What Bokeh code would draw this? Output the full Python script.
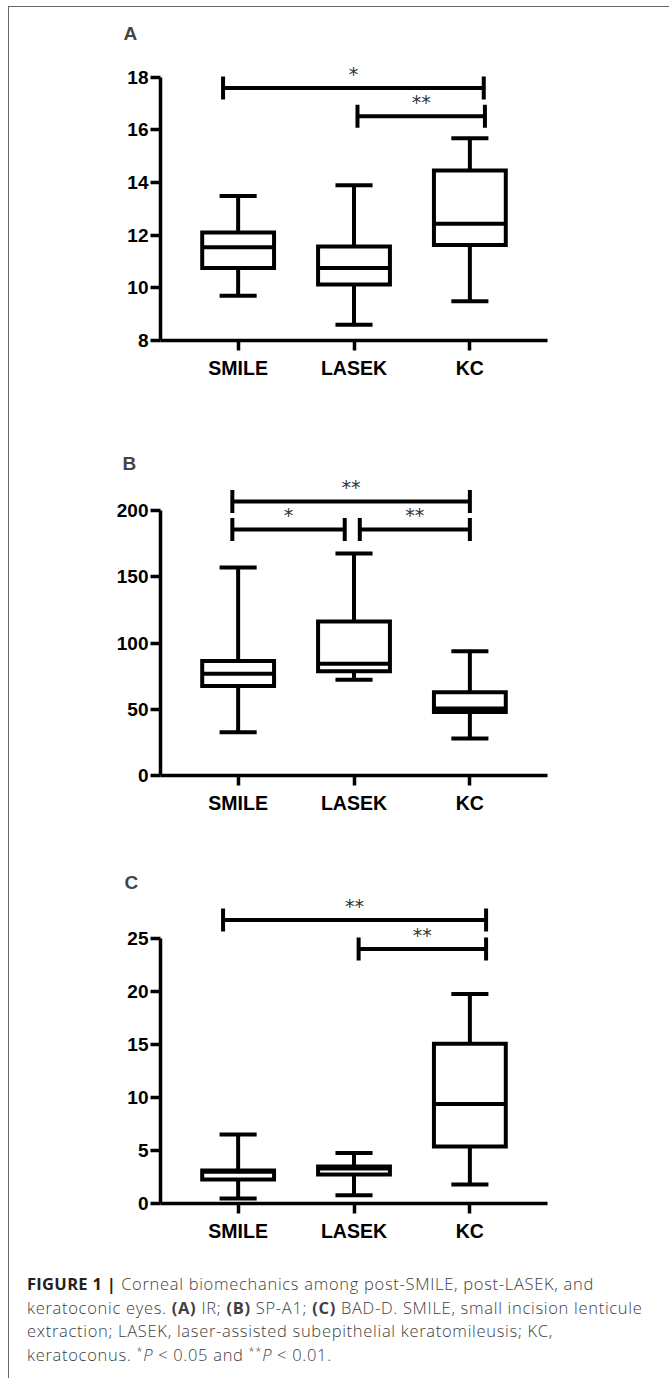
from bokeh.plotting import figure
from bokeh.models import Range1d, FixedTicker, Div, ColumnDataSource
from bokeh.layouts import column
from bokeh.embed import file_html
from bokeh.resources import INLINE
from bokeh.core.properties import value

categories = ["SMILE", "LASEK", "KC"]

# Panel A: IR
a_lower = [9.70, 8.60, 9.49]
a_q1 = [10.75, 10.13, 11.63]
a_median = [11.54, 10.75, 12.43]
a_q3 = [12.10, 11.57, 14.46]
a_upper = [13.49, 13.90, 15.68]
a_ticks = [8, 10, 12, 14, 16, 18]
a_brk_from = [0.87, 2.03]
a_brk_to = [3.12, 3.13]
a_brk_level = [17.59, 16.52]
a_brk_label = ["*", "**"]

# Panel B: SP-A1
b_lower = [32.7, 72.2, 27.9]
b_q1 = [67.5, 78.7, 47.9]
b_median = [76.8, 84.3, 50.6]
b_q3 = [86.5, 116.2, 62.8]
b_upper = [157.0, 167.5, 93.8]
b_ticks = [0, 50, 100, 150, 200]
b_brk_from = [0.95, 0.95, 2.05]
b_brk_to = [3.00, 1.92, 3.00]
b_brk_level = [206.8, 185.7, 185.7]
b_brk_label = ["**", "*", "**"]

# Panel C: BAD-D
c_lower = [0.47, 0.78, 1.80]
c_q1 = [2.27, 2.73, 5.37]
c_median = [3.00, 3.30, 9.38]
c_q3 = [3.12, 3.48, 15.06]
c_upper = [6.51, 4.77, 19.77]
c_ticks = [0, 5, 10, 15, 20, 25]
c_brk_from = [0.87, 2.04]
c_brk_to = [3.14, 3.14]
c_brk_level = [26.75, 24.0]
c_brk_label = ["**", "**"]

BOX_W = 0.62
CAP_W = 0.32
LW = 4
FONT = "Liberation Sans"


def panel(letter, lower, q1, med, q3, upper, ticks, bfrom, bto, blevel, blabel,
          height, y_end, mb, title_offset):
    x = [i + 1 for i in range(len(categories))]
    p = figure(width=652, height=height, output_backend="svg", toolbar_location=None,
               x_range=Range1d(0.33, 3.67), y_range=Range1d(ticks[0], y_end),
               min_border_left=mb[0], min_border_right=mb[1],
               min_border_top=mb[2], min_border_bottom=mb[3])
    p.outline_line_color = None
    p.xgrid.visible = False
    p.ygrid.visible = False
    p.background_fill_color = "white"
    p.border_fill_color = "white"

    p.title.text = letter
    p.title.text_font = FONT
    p.title.text_font_size = "19px"
    p.title.text_font_style = "bold"
    p.title.align = "left"
    p.title.offset = title_offset
    p.title.standoff = 9

    src = ColumnDataSource(dict(
        x=x, lo=lower, q1=q1, med=med, q3=q3, hi=upper,
        bl=[v - BOX_W / 2 for v in x], br=[v + BOX_W / 2 for v in x],
        cl=[v - CAP_W / 2 for v in x], cr=[v + CAP_W / 2 for v in x]))
    # whiskers
    p.segment(x0="x", x1="x", y0="q3", y1="hi", source=src, line_color="black", line_width=LW)
    p.segment(x0="x", x1="x", y0="q1", y1="lo", source=src, line_color="black", line_width=LW)
    p.segment(x0="cl", x1="cr", y0="hi", y1="hi", source=src, line_color="black", line_width=LW)
    p.segment(x0="cl", x1="cr", y0="lo", y1="lo", source=src, line_color="black", line_width=LW)
    # boxes
    p.vbar(x="x", width=BOX_W, bottom="q1", top="q3", source=src, fill_color="white",
           line_color="black", line_width=LW, line_join="miter")
    p.segment(x0="bl", x1="br", y0="med", y1="med", source=src, line_color="black", line_width=LW)

    # significance brackets
    bsrc = ColumnDataSource(dict(x0=bfrom, x1=bto, y=blevel, lbl=blabel,
                                 xm=[(a + b) / 2 for a, b in zip(bfrom, bto)]))
    p.segment(x0="x0", x1="x1", y0="y", y1="y", source=bsrc, line_color="black", line_width=LW)
    p.scatter(x="x0", y="y", source=bsrc, marker="dash", size=23, angle=1.5708,
              line_color="black", line_width=LW)
    p.scatter(x="x1", y="y", source=bsrc, marker="dash", size=23, angle=1.5708,
              line_color="black", line_width=LW)
    p.text(x="xm", y="y", text="lbl", source=bsrc, text_font=value("DejaVu Sans"),
           text_font_size="19px", text_color="#333333", text_align="center",
           text_baseline="middle", y_offset=-14)

    for ax in (p.xaxis[0], p.yaxis[0]):
        ax.axis_line_width = 3.5
        ax.axis_line_color = "black"
        ax.major_tick_line_width = 3.5
        ax.major_tick_line_color = "black"
        ax.major_tick_out = 10
        ax.major_tick_in = 0
        ax.minor_tick_line_color = None
        ax.major_label_text_font = FONT
        ax.major_label_text_font_style = "bold"
        ax.major_label_text_color = "black"
    p.yaxis.ticker = FixedTicker(ticks=ticks)
    p.yaxis.bounds = (ticks[0], ticks[-1])
    p.yaxis.major_label_text_font_size = "19px"
    p.yaxis.major_label_standoff = 2
    p.xaxis.ticker = FixedTicker(ticks=x)
    p.xaxis.major_label_overrides = {xi: c for xi, c in zip(x, categories)}
    p.xaxis.major_label_text_font_size = "19.5px"
    p.xaxis.major_label_standoff = 6
    return p


pA = panel("A", a_lower, a_q1, a_median, a_q3, a_upper, a_ticks,
           a_brk_from, a_brk_to, a_brk_level, a_brk_label,
           438, 8 + 292 / 26.33, (140, 114, 41, 105), -37)
pB = panel("B", b_lower, b_q1, b_median, b_q3, b_upper, b_ticks,
           b_brk_from, b_brk_to, b_brk_level, b_brk_label,
           415, 297 / 1.325, (151, 102, 33, 85), -38)
pC = panel("C", c_lower, c_q1, c_median, c_q3, c_upper, c_ticks,
           c_brk_from, c_brk_to, c_brk_level, c_brk_label,
           395, 306 / 10.6, (141, 114, 37, 52), -36)

SUP = '<span style="font-size:11px; line-height:0; vertical-align:6px;">'
caption_html = (
    '<div style="font-family: \'Open Sans\', \'Liberation Sans\', sans-serif; font-weight: 300; '
    'font-size: 16.5px; letter-spacing: 0.7px; line-height: 23.5px; color: #404040; white-space: nowrap; '
    'padding: 12px 0 0 13px;">'
    '<b style="font-weight:700;color:#222;letter-spacing:0.3px">FIGURE 1 |</b> Corneal biomechanics among post-SMILE, post-LASEK, and<br>'
    'keratoconic eyes. <b style="font-weight:700">(A)</b> IR; <b style="font-weight:700">(B)</b> SP-A1; '
    '<b style="font-weight:700">(C)</b> BAD-D. SMILE, small incision lenticule<br>'
    'extraction; LASEK, laser-assisted subepithelial keratomileusis; KC,<br>'
    'keratoconus. ' + SUP + '*</span><i>P</i> &lt; 0.05 and ' + SUP + '**</span><i>P</i> &lt; 0.01.'
    '</div>'
)
cap = Div(text=caption_html, width=652, height=122)

layout = column(pA, pB, pC, cap, spacing=0,
                styles={"border-left": "1px solid #666", "border-right": "1px solid #666",
                        "border-top": "1px solid #666", "margin-left": "8px",
                        "margin-top": "6px", "background": "white"})

open("out.html", "w").write(file_html(layout, INLINE))
